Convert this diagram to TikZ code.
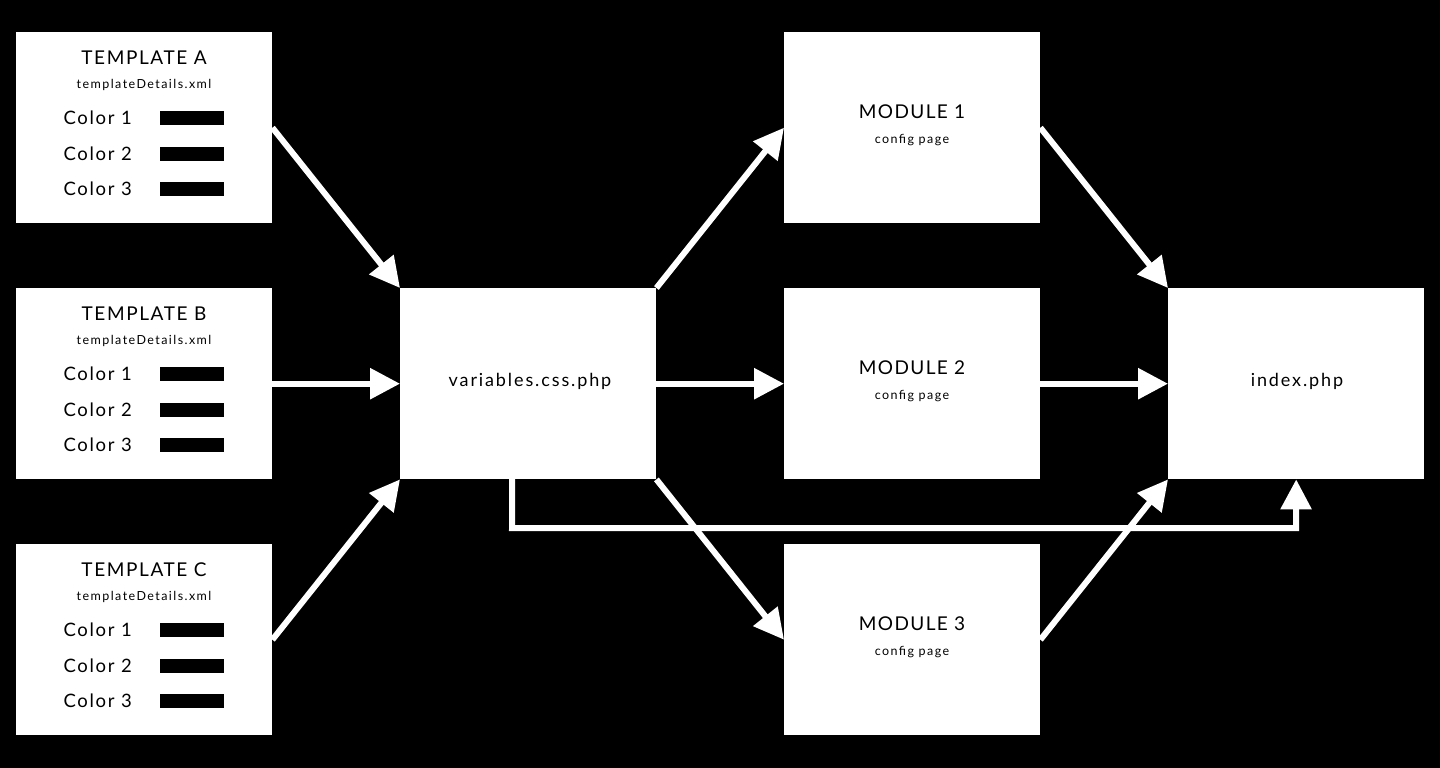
\documentclass[tikz,border=0pt]{standalone}
\usepackage{fontspec}
\setmainfont{Lato}
\newfontfamily\latoA[LetterSpace=8.4]{Lato}
\newfontfamily\latoB[LetterSpace=11.5]{Lato}
\newfontfamily\latoC[LetterSpace=9.2]{Lato}
\newfontfamily\latoD[LetterSpace=10.5]{Lato}
\newfontfamily\latoE[LetterSpace=7.4]{Lato}
\usetikzlibrary{arrows.meta}
\begin{document}
\begin{tikzpicture}[x=1pt,y=-1pt,
  box/.style={fill=white, draw=none, minimum width=256pt, minimum height=191pt, inner sep=0pt, anchor=north west},
  conn/.style={draw=white, line width=6pt, -{Triangle[length=30pt,width=30pt]}},
  title/.style={font=\latoA\fontsize{19}{22}\selectfont, text=black},
  mtitle/.style={font=\latoE\fontsize{19}{22}\selectfont, text=black},
  sub/.style={font=\latoB\fontsize{12.5}{14}\selectfont, text=black},
  clr/.style={font=\latoC\fontsize{18.5}{22}\selectfont, text=black, anchor=west},
  main/.style={font=\latoD\fontsize{18}{22}\selectfont, text=black},
  bar/.style={fill=black, draw=none}]
\fill[black] (0,0) rectangle (1440,768);
\useasboundingbox (0,0) rectangle (1440,768);
% template boxes
\foreach \n/\l/\y in {ta/A/32, tb/B/288, tc/C/544}{
  \node[box] (\n) at (16,\y) {};
  \node[title] (\n t) at (144,\y+26) {TEMPLATE \l};
  \node[sub] (\n s) at (144,\y+53) {templateDetails.xml};
  \foreach \i/\dy in {1/86, 2/122, 3/157}{
    \node[clr] (\n c\i) at (60,\y+\dy) {Color \i};
    \path[bar] (160,\y+\dy-7) rectangle (224,\y+\dy+7);
  }
}
\node[box] (var) at (400,288) {};
\node[main] (vart) at (530,381) {variables.css.php};
\foreach \n/\l/\y in {m1/1/32, m2/2/288, m3/3/544}{
  \node[box] (\n) at (784,\y) {};
  \node[mtitle] (\n t) at (912,\y+80) {MODULE \l};
  \node[sub] (\n s) at (912,\y+108) {config page};
}
\node[box] (idx) at (1168,288) {};
\node[main] (idxt) at (1297,381) {index.php};
% connectors
\draw[conn] (ta.east) -- (var.north west);
\draw[conn] (tb.east) -- (var.west);
\draw[conn] (tc.east) -- (var.south west);
\draw[conn] (var.north east) -- (m1.west);
\draw[conn] (var.east) -- (m2.west);
\draw[conn] (var.south east) -- (m3.west);
\draw[conn] (m1.east) -- (idx.north west);
\draw[conn] (m2.east) -- (idx.west);
\draw[conn] (m3.east) -- (idx.south west);
\coordinate (b1) at (512,528);
\coordinate (b2) at (1296,528);
\draw[conn, line cap=rect] ([xshift=-16pt]var.south) -- (b1) -- (b2) -- (idx.south);
\end{tikzpicture}
\end{document}
